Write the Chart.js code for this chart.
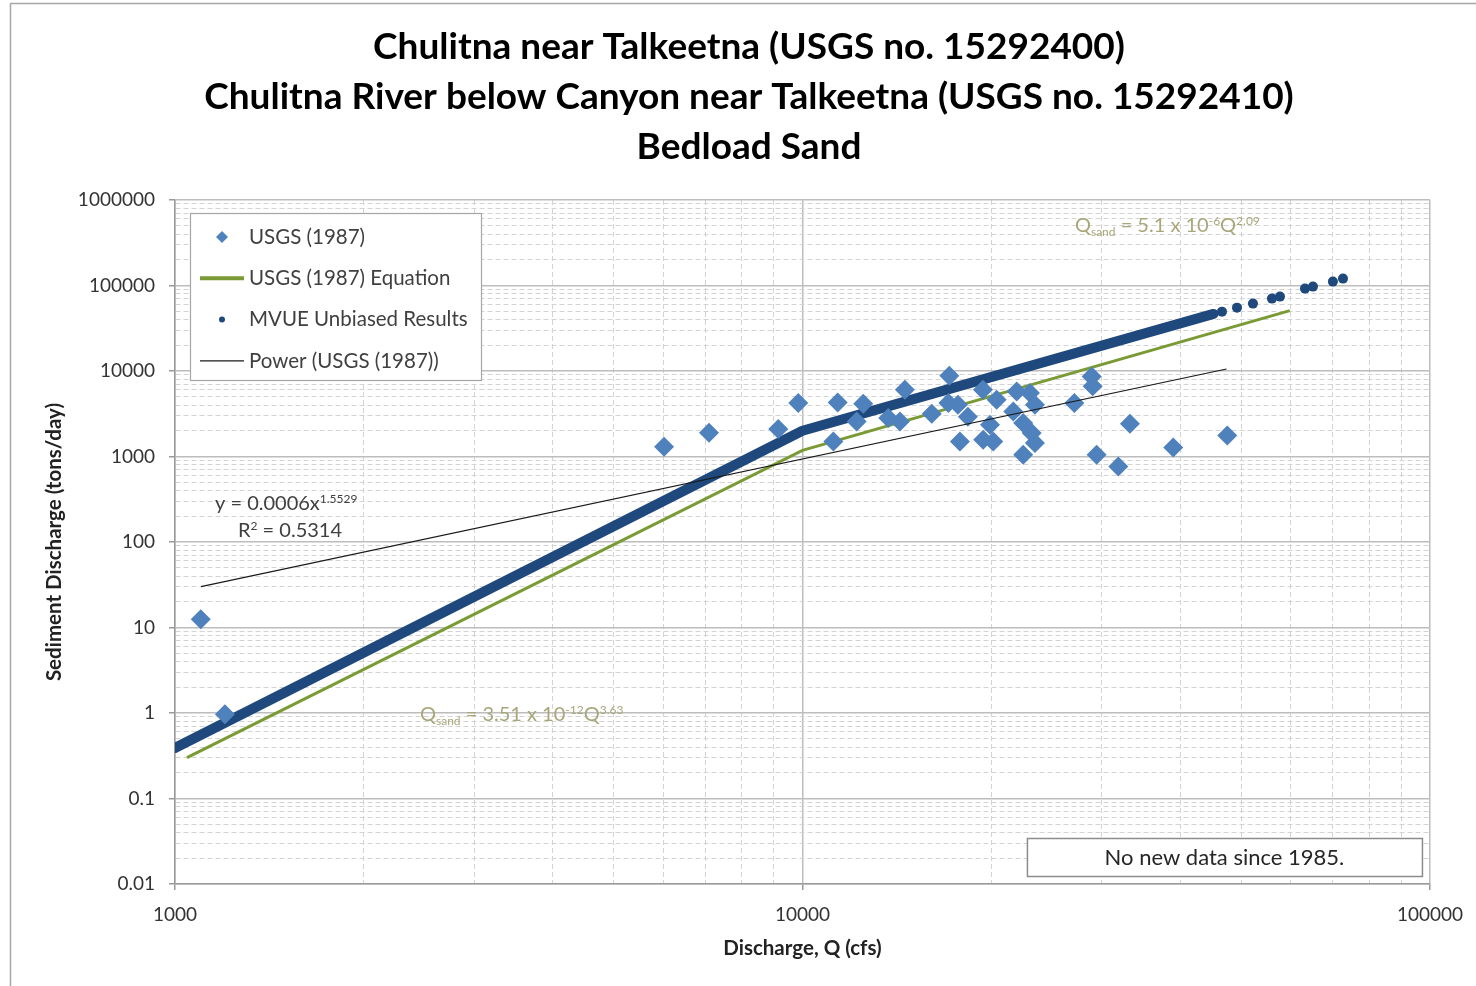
<!DOCTYPE html>
<html>
<head>
<meta charset="utf-8">
<title>Chulitna Bedload Sand</title>
<script src="https://cdn.jsdelivr.net/npm/chart.js@4.4.1/dist/chart.umd.min.js"></script>
<style>
  html, body { margin: 0; padding: 0; background: #fff; }
  #wrap { position: relative; width: 1476px; height: 986px; }
</style>
</head>
<body>
<div id="wrap"><canvas id="sandChart" width="1476" height="986"></canvas></div>
<script>
// Chart text
const titleLines = [
    'Chulitna near Talkeetna (USGS no. 15292400)',
    'Chulitna River below Canyon near Talkeetna (USGS no. 15292410)',
    'Bedload Sand'
];
const xAxisTitle = 'Discharge, Q (cfs)';
const yAxisTitle = 'Sediment Discharge (tons/day)';
const noteText = 'No new data since 1985.';

// Tick labels (decades only)
const xTickLabels = ['1000', '10000', '100000'];
const yTickLabels = ['0.01', '0.1', '1', '10', '100', '1000', '10000', '100000', '1000000'];

// USGS (1987) measured bedload sand: discharge (cfs) / sediment discharge (tons/day)
const usgsQ = [1099, 1201, 6017, 7096, 9150, 9847, 11200, 11380, 12500, 12200,
    14560, 13700, 14300, 16070, 17140, 17080, 17690, 18350, 17820, 19390,
    20390, 19900, 19410, 20140, 21950, 23040, 23470, 21680, 22480, 23190,
    23470, 22480, 28900, 29010, 27120, 33260, 29430, 31870, 38990, 47530];
const usgsQs = [12.5, 0.97, 1299, 1895, 2094, 4221, 1498, 4289, 4140, 2570,
    6040, 2817, 2570, 3162, 8810, 4220, 4030, 2917, 1498, 6040,
    4613, 2350, 1569, 1498, 5770, 5520, 4030, 3366, 2460, 1880,
    1435, 1047, 8650, 6610, 4220, 2415, 1047, 764, 1275, 1762];

// USGS (1987) equation line (two-part rating)
const eqQ = [1045, 10000, 59800];
const eqQs = [0.30, 1180, 50800];

// MVUE unbiased results: dense band, then sparse points at high flow
const mvueQ = [1000, 10000, 16560, 45200, 46620, 49260, 52230, 56000, 57680, 63220, 65100, 70040, 72680];
const mvueQs = [0.39, 2000, 5730, 46500, 49470, 55100, 61400, 70270, 74130, 91970, 97040, 111100, 120400];
const mvueBandEnd = 3; // last index of the continuous band

// Power trendline of USGS (1987)
const powerQ = [1100, 47400];
const powerQs = [30, 10550];

const toXY = (xs, ys) => xs.map((x, i) => ({ x: x, y: ys[i] }));
const isDecade = v => v > 0 && Math.abs(Math.log10(v) - Math.round(Math.log10(v))) < 1e-9;

function logTicks(min, max) {
    let ticks = [];
    for (let e = Math.round(Math.log10(min)); e < Math.round(Math.log10(max)); e++) {
        for (let s = 1; s <= 9; s++) {
            ticks.push({ value: Number((s * Math.pow(10, e)).toPrecision(10)) });
        }
    }
    ticks.push({ value: max });
    return ticks;
}

function labelFor(list, value) {
    const hit = list.find(l => Math.abs(Number(l) - value) < value * 1e-9);
    return hit || '';
}

const fontFamily = 'Lato, "Open Sans", sans-serif';

// draws a string made of parts with sub/superscripts, left aligned at baseline
function drawRich(ctx, x, y, parts, size, color) {
    ctx.save();
    ctx.fillStyle = color;
    ctx.textAlign = 'left';
    ctx.textBaseline = 'alphabetic';
    parts.forEach(p => {
        let s = size, dy = 0;
        if (p.sup) { s = size * 0.6; dy = -size * 0.38; }
        if (p.sub) { s = size * 0.6; dy = size * 0.2; }
        ctx.font = s + 'px ' + fontFamily;
        ctx.fillText(p.t, x, y + dy);
        x += ctx.measureText(p.t).width;
    });
    ctx.restore();
}

const decorations = {
    id: 'decorations',
    beforeDraw(chart) {
        const ctx = chart.ctx;
        ctx.save();
        ctx.fillStyle = '#fff';
        ctx.fillRect(0, 0, chart.width, chart.height);
        ctx.strokeStyle = '#A6A6A6';
        ctx.lineWidth = 1.5;
        ctx.beginPath();
        ctx.moveTo(10.5, chart.height);
        ctx.lineTo(10.5, 3.5);
        ctx.lineTo(chart.width, 3.5);
        ctx.stroke();
        // title
        ctx.fillStyle = '#000';
        ctx.font = 'bold 37px ' + fontFamily;
        ctx.textAlign = 'center';
        ctx.textBaseline = 'middle';
        titleLines.forEach((line, i) => ctx.fillText(line, 749, 47 + i * 50));
        ctx.restore();
    },
    afterDraw(chart) {
        const ctx = chart.ctx;
        const area = chart.chartArea;
        const xs = chart.scales.x, ys = chart.scales.y;

        // equation labels
        const olive = '#A9A77A';
        drawRich(ctx, xs.getPixelForValue(27180), ys.getPixelForValue(420000), [
            { t: 'Q' }, { t: 'sand', sub: true }, { t: ' = 5.1 x 10' }, { t: '-6', sup: true }, { t: 'Q' }, { t: '2.09', sup: true }
        ], 20, olive);
        drawRich(ctx, xs.getPixelForValue(2457), ys.getPixelForValue(0.8), [
            { t: 'Q' }, { t: 'sand', sub: true }, { t: ' = 3.51 x 10' }, { t: '-12', sup: true }, { t: 'Q' }, { t: '3.63', sup: true }
        ], 20, olive);
        drawRich(ctx, xs.getPixelForValue(1158), ys.getPixelForValue(235), [
            { t: 'y = 0.0006x' }, { t: '1.5529', sup: true }
        ], 20, '#404040');
        drawRich(ctx, xs.getPixelForValue(1260), ys.getPixelForValue(114), [
            { t: 'R' }, { t: '2', sup: true }, { t: ' = 0.5314' }
        ], 20, '#404040');

        // legend
        ctx.save();
        const lx = area.left + 15, ly = area.top + 13;
        ctx.fillStyle = '#fff';
        ctx.fillRect(lx, ly, 291, 167);
        ctx.strokeStyle = '#A6A6A6';
        ctx.lineWidth = 1.2;
        ctx.strokeRect(lx + 0.5, ly + 0.5, 291, 167);
        ctx.font = '20.5px ' + fontFamily;
        ctx.textBaseline = 'middle';
        ctx.textAlign = 'left';
        const sx = lx + 32, tx = lx + 59;
        chart.data.datasets.forEach((ds, i) => {
            const y = ly + 24 + i * 41.3;
            ctx.beginPath();
            if (i === 0) {
                ctx.fillStyle = ds.backgroundColor;
                ctx.moveTo(sx - 6, y); ctx.lineTo(sx, y - 6); ctx.lineTo(sx + 6, y); ctx.lineTo(sx, y + 6);
                ctx.closePath(); ctx.fill();
            } else if (i === 2) {
                ctx.fillStyle = ds.backgroundColor;
                ctx.arc(sx, y, 3, 0, Math.PI * 2); ctx.fill();
            } else {
                ctx.strokeStyle = ds.borderColor;
                ctx.lineWidth = i === 1 ? 4 : 1.2;
                ctx.moveTo(sx - 22, y); ctx.lineTo(sx + 22, y); ctx.stroke();
            }
            ctx.fillStyle = '#404040';
            ctx.fillText(ds.label, tx, y);
        });
        ctx.restore();

        // note box
        ctx.save();
        const bw = 395, bh = 38;
        const bx = area.right - 8 - bw, by = area.bottom - 8 - bh;
        ctx.fillStyle = '#fff';
        ctx.fillRect(bx, by, bw, bh);
        ctx.strokeStyle = '#8C8C8C';
        ctx.lineWidth = 1.5;
        ctx.strokeRect(bx + 0.5, by + 0.5, bw, bh);
        ctx.fillStyle = '#262626';
        ctx.font = '22px ' + fontFamily;
        ctx.textAlign = 'center';
        ctx.textBaseline = 'middle';
        ctx.fillText(noteText, bx + bw / 2, by + bh / 2 + 1);
        ctx.restore();
    }
};

const gridOpts = {
    color: c => (c.tick && isDecade(c.tick.value)) ? '#BDBDBD' : '#D3D3D3',
    lineWidth: c => (c.tick && isDecade(c.tick.value)) ? 1.5 : 1,
    tickLength: 6,
    tickColor: c => (c.tick && isDecade(c.tick.value)) ? '#9A9A9A' : 'rgba(0,0,0,0)'
};
const borderOpts = {
    color: '#9A9A9A',
    width: 1.5,
    dash: c => (c.tick && !isDecade(c.tick.value)) ? [5, 3] : []
};

new Chart(document.getElementById('sandChart'), {
    type: 'scatter',
    data: {
        datasets: [
            {
                label: 'USGS (1987)',
                data: toXY(usgsQ, usgsQs),
                backgroundColor: '#4F81BD',
                borderColor: '#4F81BD',
                pointStyle: 'rectRot',
                pointRadius: 10,
                borderWidth: 0,
                showLine: false,
                order: 2
            },
            {
                label: 'USGS (1987) Equation',
                data: toXY(eqQ, eqQs),
                borderColor: '#7A9A35',
                backgroundColor: '#7A9A35',
                borderWidth: 3,
                pointRadius: 0,
                showLine: true,
                order: 3
            },
            {
                label: 'MVUE Unbiased Results',
                data: toXY(mvueQ, mvueQs),
                borderColor: '#1F497D',
                backgroundColor: '#1F497D',
                borderWidth: 10,
                borderCapStyle: 'round',
                borderJoinStyle: 'round',
                pointRadius: c => c.dataIndex > mvueBandEnd ? 5 : 0,
                pointBorderWidth: 0,
                showLine: true,
                segment: {
                    borderColor: c => c.p0DataIndex >= mvueBandEnd ? 'rgba(0,0,0,0)' : undefined
                },
                order: 4
            },
            {
                label: 'Power (USGS (1987))',
                data: toXY(powerQ, powerQs),
                borderColor: '#1A1A1A',
                backgroundColor: '#1A1A1A',
                borderWidth: 1.2,
                pointRadius: 0,
                showLine: true,
                order: 1
            }
        ]
    },
    options: {
        responsive: false,
        animation: false,
        events: [],
        layout: { padding: { top: 200, right: 46, bottom: 0, left: 0 } },
        plugins: {
            legend: { display: false },
            tooltip: { enabled: false },
            title: { display: false }
        },
        scales: {
            x: {
                type: 'logarithmic',
                min: 1000,
                max: 100000,
                afterBuildTicks: s => { s.ticks = logTicks(1000, 100000); },
                afterFit: s => { s.height = 102; },
                grid: gridOpts,
                border: borderOpts,
                ticks: {
                    autoSkip: false,
                    maxRotation: 0,
                    padding: 13,
                    color: '#333',
                    font: { family: fontFamily, size: 19 },
                    callback: v => labelFor(xTickLabels, v)
                },
                title: {
                    display: true,
                    text: xAxisTitle,
                    color: '#222',
                    font: { family: fontFamily, size: 20.5, weight: 'bold', lineHeight: 1.2 },
                    padding: { top: 0, bottom: 25 }
                }
            },
            y: {
                type: 'logarithmic',
                min: 0.01,
                max: 1000000,
                afterBuildTicks: s => { s.ticks = logTicks(0.01, 1000000); },
                afterFit: s => { s.width = 175; },
                grid: gridOpts,
                border: borderOpts,
                ticks: {
                    autoSkip: false,
                    padding: 14,
                    color: '#333',
                    font: { family: fontFamily, size: 19 },
                    callback: v => labelFor(yTickLabels, v)
                },
                title: {
                    display: true,
                    text: yAxisTitle,
                    color: '#222',
                    font: { family: fontFamily, size: 20.5, weight: 'bold', lineHeight: 1.2 },
                    padding: { top: 42, bottom: 0 }
                }
            }
        }
    },
    plugins: [decorations]
});
</script>
</body>
</html>
